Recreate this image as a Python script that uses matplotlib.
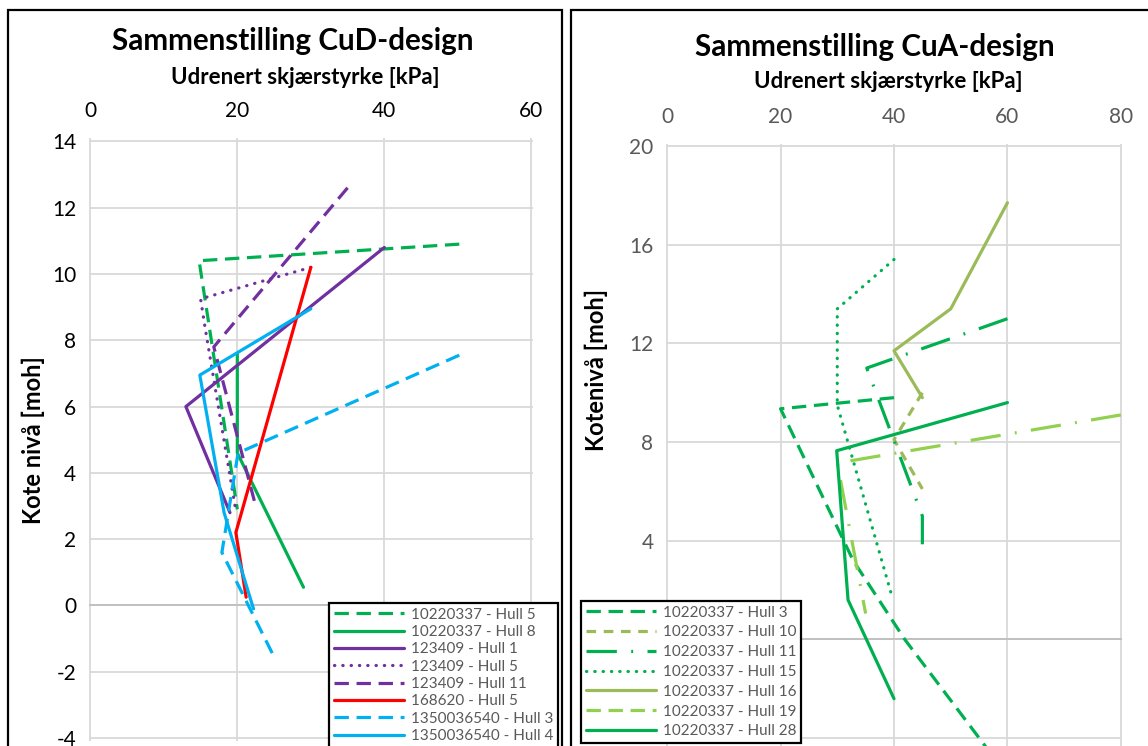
import matplotlib
matplotlib.use('Agg')
import matplotlib.pyplot as plt
from matplotlib.lines import Line2D
from matplotlib.patches import Rectangle

plt.rcParams['font.family'] = ['Lato', 'DejaVu Sans']

# --- CuD-design (venstre diagram) ---
cud_names = ['10220337 - Hull 5', '10220337 - Hull 8', '123409 - Hull 1', '123409 - Hull 5',
             '123409 - Hull 11', '168620 - Hull 5', '1350036540 - Hull 3', '1350036540 - Hull 4']
cud_su = [
    [50.2, 14.8, 20.0],
    [20.0, 20.0, 29.0],
    [40.0, 13.0, 19.0],
    [30.0, 15.0, 15.6, 19.8],
    [35.0, 16.8, 22.5],
    [30.0, 19.8, 21.2],
    [50.2, 20.1, 17.9, 25.0],
    [30.0, 14.9, 18.2, 22.2],
]
cud_kote = [
    [10.9, 10.4, 2.9],
    [7.6, 4.6, 0.55],
    [10.8, 6.0, 2.8],
    [10.2, 9.25, 8.4, 2.85],
    [12.6, 7.8, 3.0],
    [10.2, 2.2, 0.25],
    [7.55, 4.6, 1.6, -1.55],
    [8.95, 6.95, 2.8, -0.1],
]
cud_xticks = [0, 20, 40, 60]
cud_yticks = [-4, -2, 0, 2, 4, 6, 8, 10, 12, 14]
cud_ylabels = ['-4', '-2', '0', '2', '4', '6', '8', '10', '12', '14']

# --- CuA-design (høyre diagram) ---
cua_names = ['10220337 - Hull 3', '10220337 - Hull 10', '10220337 - Hull 11', '10220337 - Hull 15',
             '10220337 - Hull 16', '10220337 - Hull 19', '10220337 - Hull 28']
cua_su = [
    [40.0, 20.0, 32.8, 41.9, 57.0],
    [45.0, 40.0, 45.0],
    [60.0, 35.2, 45.0, 45.0],
    [40.0, 30.0, 30.0, 39.7],
    [60.0, 50.0, 40.0, 45.0],
    [80.0, 30.0, 35.0],
    [60.0, 29.9, 31.9, 40.0],
]
cua_kote = [
    [9.8, 9.35, 3.2, 0.0, -4.6],
    [10.0, 8.1, 6.1],
    [13.0, 11.0, 5.0, 3.5],
    [15.4, 13.4, 9.5, 1.7],
    [17.7, 13.4, 11.7, 9.8],
    [9.1, 7.15, 1.05],
    [9.6, 7.65, 1.6, -2.4],
]
cua_xticks = [0, 20, 40, 60, 80]
cua_yticks = [-4, 0, 4, 8, 12, 16, 20]
# -4 og 0 ligger under forklaringen i originalen
cua_ylabels = ['', '0', '4', '8', '12', '16', '20']

# Farger og linjetyper (Excel-aktige)
GREEN = '#00B050'
PURPLE = '#7030A0'
RED = '#FF0000'
CYAN = '#00B0F0'
OLIVE = '#9BBB59'
LIME = '#92D050'

SOLID = '-'
LONG_DASH = (0, (4.5, 2.4))
DASH = (0, (3.0, 2.4))
DOT = (0, (0.1, 2.5))
DASH_DOT = (0, (9.5, 4.5, 0.6, 4.5))

cud_styles = [(GREEN, LONG_DASH), (GREEN, SOLID), (PURPLE, SOLID), (PURPLE, DOT),
              (PURPLE, LONG_DASH), (RED, SOLID), (CYAN, LONG_DASH), (CYAN, SOLID)]
cua_styles = [(GREEN, LONG_DASH), (OLIVE, DASH), (GREEN, DASH_DOT), (GREEN, DOT),
              (OLIVE, SOLID), (LIME, DASH_DOT), (GREEN, SOLID)]
# Hull 19 vises som lang strek i forklaringen
cua_legend_styles = list(cua_styles)
cua_legend_styles[5] = (LIME, LONG_DASH)

LW = 2.3


def make_line_kw(color, ls):
    cap = 'round' if ls == DOT else 'butt'
    return dict(color=color, linestyle=ls, linewidth=LW, dash_capstyle=cap, solid_capstyle='round')


def style_axes(ax, xlim, xticks, ylim, yticks, ylabels, tick_color):
    ax.set_xlim(*xlim)
    ax.set_ylim(*ylim)
    ax.set_xticks(xticks)
    ax.set_yticks(yticks)
    ax.set_yticklabels(ylabels)
    ax.xaxis.tick_top()
    ax.tick_params(axis='both', length=0, labelsize=15, labelcolor=tick_color)
    ax.tick_params(axis='x', pad=12)
    ax.tick_params(axis='y', pad=9)
    ax.grid(True, color='#D9D9D9', linewidth=1.3)
    ax.set_axisbelow(True)
    for s in ax.spines.values():
        s.set_visible(False)
    ax.axhline(0, color='#BFBFBF', linewidth=1.3, zorder=1)


def draw_series(ax, xs, ys, styles):
    for x, y, (c, ls) in zip(xs, ys, styles):
        ax.plot(x, y, zorder=3, **make_line_kw(c, ls))


def add_legend(fig, names, styles, anchor, spacing):
    handles = [Line2D([], [], **make_line_kw(c, ls)) for c, ls in styles]
    leg = fig.legend(handles, names, loc='upper left', bbox_to_anchor=anchor,
                     frameon=True, fancybox=False, shadow=False, framealpha=1,
                     edgecolor='black', fontsize=11, handlelength=4.6,
                     handletextpad=0.45, labelspacing=spacing, borderpad=0.3,
                     borderaxespad=0)
    leg.get_frame().set_linewidth(1.6)
    for t in leg.get_texts():
        t.set_color('#595959')
    return leg


fig = plt.figure(figsize=(11.48, 7.46), dpi=100, facecolor='white')

ax1 = fig.add_axes([0.0774, 0.0062, 0.3867, 0.8087])
style_axes(ax1, (-0.2, 60.2), cud_xticks, (-4.1, 14.1), cud_yticks, cud_ylabels, 'black')
draw_series(ax1, cud_su, cud_kote, cud_styles)

ax2 = fig.add_axes([0.5801, -0.0027, 0.3973, 0.8103])
style_axes(ax2, (-0.2, 80.2), cua_xticks, (-4.4, 20.1), cua_yticks, cua_ylabels, '#595959')
draw_series(ax2, cua_su, cua_kote, cua_styles)

# Titler og aksetitler
W, H = 1148.0, 746.0
fig.text(293 / W, 1 - 41 / H, 'Sammenstilling CuD-design', ha='center', va='center',
         fontsize=21.3, fontweight='bold')
fig.text(305 / W, 1 - 78 / H, 'Udrenert skjærstyrke [kPa]', ha='center', va='center',
         fontsize=16, fontweight='bold')
fig.text(33 / W, 1 - 440 / H, 'Kote nivå [moh]', ha='center', va='center',
         rotation=90, fontsize=17, fontweight='bold')

fig.text(875 / W, 1 - 47 / H, 'Sammenstilling CuA-design', ha='center', va='center',
         fontsize=21.3, fontweight='bold')
fig.text(888 / W, 1 - 81 / H, 'Udrenert skjærstyrke [kPa]', ha='center', va='center',
         fontsize=16, fontweight='bold')
fig.text(596 / W, 1 - 370 / H, 'Kotenivå [moh]', ha='center', va='center',
         rotation=90, fontsize=17, fontweight='bold')

# Forklaringer
add_legend(fig, cud_names, cud_styles, (329 / W, 1 - 603 / H), 0.22)
add_legend(fig, cua_names, cua_legend_styles, (581 / W, 1 - 601 / H), 0.38)

# Rammer rundt diagrammene
fig.add_artist(Rectangle((8 / W, -0.1), (562 - 8) / W, 1.1 - 10 / H, transform=fig.transFigure,
                         fill=False, edgecolor='black', linewidth=1.6, zorder=10))
fig.add_artist(Rectangle((571 / W, -0.1), 0.6, 1.1 - 10 / H, transform=fig.transFigure,
                         fill=False, edgecolor='black', linewidth=1.6, zorder=10))

fig.savefig('out.png', dpi=100, facecolor='white')
